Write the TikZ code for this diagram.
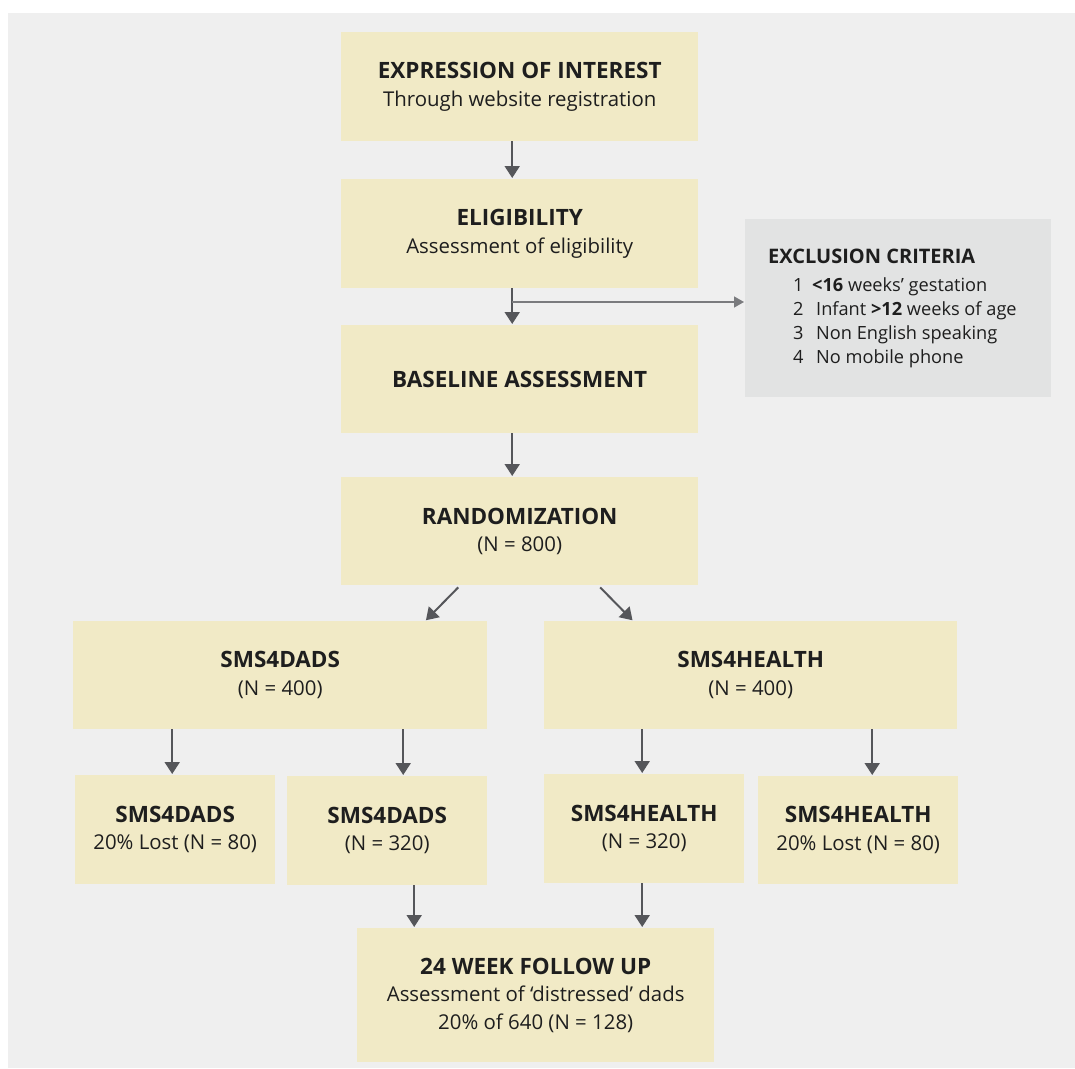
\documentclass[tikz,border=0pt]{standalone}
\usepackage{fontspec}
\setmainfont{Open Sans}
\usetikzlibrary{arrows.meta}
\definecolor{panel}{HTML}{EFEFEF}
\definecolor{boxfill}{HTML}{F1EAC6}
\definecolor{exfill}{HTML}{E2E3E3}
\definecolor{arr}{HTML}{55565A}
\definecolor{thinarr}{HTML}{7A7B7E}
\definecolor{txt}{HTML}{1E1E1E}
\newcommand{\hd}[1]{{\fontsize{22.5}{27.5}\selectfont\bfseries #1}}
\begin{document}
\begin{tikzpicture}[x=1pt,y=-1pt,
  box/.style={fill=boxfill, draw=none, inner sep=0pt, align=center, anchor=north west,
    text=txt, font=\fontsize{20.4}{27.5}\selectfont},
  exbox/.style={fill=exfill, draw=none, inner sep=0pt, anchor=north west},
  extxt/.style={anchor=base west, inner sep=0pt, text=txt, font=\fontsize{18.2}{24}\selectfont},
  arrow/.style={draw=arr, line width=2pt, -{Triangle[width=15pt,length=12pt]}, shorten >=1pt},
  thinarrow/.style={draw=thinarr, line width=1.5pt, -{Triangle[width=11pt,length=10pt]}, shorten >=1pt}
]
\useasboundingbox (0,0) rectangle (1075,1068);
\fill[white] (0,0) rectangle (1075,1068);
\fill[panel] (8,13) rectangle (1075,1068);

\node[box, minimum width=357pt, minimum height=109pt] (expr) at (341,32)
  {\hd{EXPRESSION OF INTEREST}\\Through website registration};
\node[box, minimum width=357pt, minimum height=109pt] (elig) at (341,179)
  {\hd{ELIGIBILITY}\\Assessment of eligibility};
\node[box, minimum width=357pt, minimum height=108pt] (base) at (341,325)
  {\hd{BASELINE ASSESSMENT}};
\node[box, minimum width=357pt, minimum height=108pt] (rand) at (341,477)
  {\hd{RANDOMIZATION}\\(N = 800)};
\node[box, minimum width=414pt, minimum height=108pt] (dads) at (73,621)
  {\hd{SMS4DADS}\\(N = 400)};
\node[box, minimum width=413pt, minimum height=108pt] (health) at (544,621)
  {\hd{SMS4HEALTH}\\(N = 400)};
\node[box, minimum width=200pt, minimum height=109pt] (dlost) at (75,775)
  {\hd{SMS4DADS}\\20\% Lost (N = 80)};
\node[box, minimum width=200pt, minimum height=109pt] (d320) at (287,776)
  {\hd{SMS4DADS}\\(N = 320)};
\node[box, minimum width=200pt, minimum height=109pt] (h320) at (544,774)
  {\hd{SMS4HEALTH}\\(N = 320)};
\node[box, minimum width=200pt, minimum height=108pt] (hlost) at (758,776)
  {\hd{SMS4HEALTH}\\20\% Lost (N = 80)};
\node[box, minimum width=357pt, minimum height=134pt] (follow) at (357,928)
  {\hd{24 WEEK FOLLOW UP}\\Assessment of ‘distressed’ dads\\20\% of 640 (N = 128)};

\node[exbox, minimum width=306pt, minimum height=178pt] (excl) at (745,219) {};
\node[extxt] (exh) at (768,263) {\fontsize{20}{24}\selectfont\bfseries EXCLUSION CRITERIA};
\node[extxt] (ex1) at (793,291) {\makebox[19pt][l]{1}\textbf{<16} weeks’ gestation};
\node[extxt] (ex2) at (793,315) {\makebox[23pt][l]{2}Infant \textbf{>12} weeks of age};
\node[extxt] (ex3) at (793,339) {\makebox[23pt][l]{3}Non English speaking};
\node[extxt] (ex4) at (793,363) {\makebox[23pt][l]{4}No mobile phone};

\draw[arrow] ([xshift=-7.5pt]expr.south) -- ([xshift=-7.5pt]elig.north);
\draw[arrow] ([xshift=-7.5pt]elig.south) -- ([xshift=-7.5pt]base.north);
\coordinate (br) at (512,302);
\draw[thinarrow] (br) -- (br -| excl.west);
\draw[arrow] ([xshift=-7.5pt]base.south) -- ([xshift=-7.5pt]rand.north);
\draw[arrow] ([xshift=-61.5pt,yshift=-2pt]rand.south) -- ([xshift=145pt]dads.north);
\draw[arrow] ([xshift=80.5pt,yshift=-2pt]rand.south) -- ([xshift=-117.5pt]health.north);
\draw[arrow] ([xshift=-108pt]dads.south) -- ([xshift=-3pt]dlost.north);
\draw[arrow] ([xshift=123pt]dads.south) -- ([xshift=16pt]d320.north);
\draw[arrow] ([xshift=-108.5pt]health.south) -- ([xshift=-2pt]h320.north);
\draw[arrow] ([xshift=121.5pt]health.south) -- ([xshift=14pt]hlost.north);
\draw[arrow] ([xshift=27pt]d320.south) -- ([xshift=-121.5pt]follow.north);
\draw[arrow] ([xshift=-2pt]h320.south) -- ([xshift=106.5pt]follow.north);
\end{tikzpicture}
\end{document}
